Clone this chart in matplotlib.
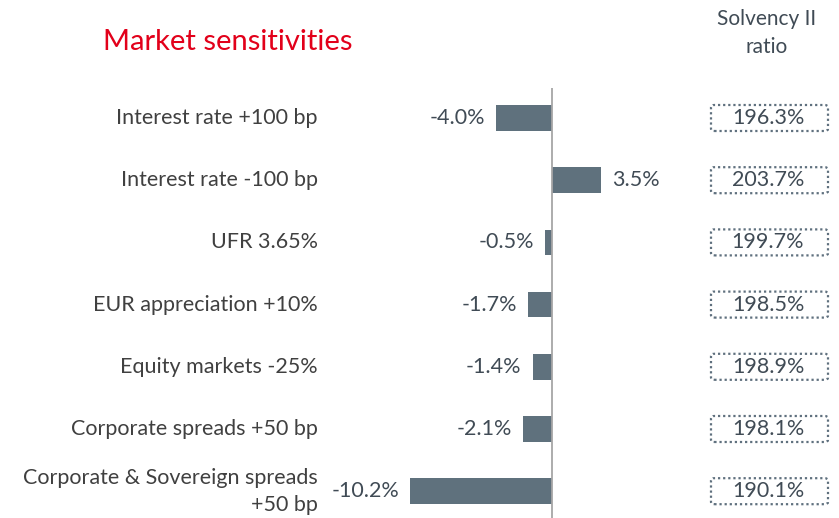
import matplotlib.pyplot as plt
from matplotlib.patches import FancyBboxPatch

scenarios = ['Interest rate +100 bp', 'Interest rate -100 bp', 'UFR 3.65%',
             'EUR appreciation +10%', 'Equity markets -25%',
             'Corporate spreads +50 bp', 'Corporate & Sovereign spreads\n+50 bp']
impact = [-4.0, 3.5, -0.5, -1.7, -1.4, -2.1, -10.2]
ratio = [196.3, 203.7, 199.7, 198.5, 198.9, 198.1, 190.1]

W, H = 839, 518
bar_col = '#5f717d'
txt_col = '#404b55'

plt.rcParams['font.family'] = ['Lato', 'DejaVu Sans']
fig = plt.figure(figsize=(W / 100, H / 100), dpi=100)

# axes placed in pixel terms: zero at x=552, rows 62 px apart from y=118
ax = fig.add_axes([400 / W, 0, 290 / W, (518 - 88) / H])
ax.set_xlim(-152 / 13.9, 138 / 13.9)
ax.set_ylim(6.43, -0.48)
ax.axis('off')

ys = list(range(len(scenarios)))
ax.barh(ys, impact, height=0.41, color=bar_col)
ax.axvline(0, color='#a6a6a6', lw=1.3)

for y, v in zip(ys, impact):
    if v < 0:
        ax.text(v - 0.8, y, f'{v:.1f}%', ha='right', va='center', fontsize=15.5, color=txt_col)
    else:
        ax.text(v + 0.8, y, f'{v:.1f}%', ha='left', va='center', fontsize=15.5, color=txt_col)

def ypix(i):
    return 1 - (118 + 62.2 * i) / H

for i, (s, r) in enumerate(zip(scenarios, ratio)):
    fig.text(318 / W, ypix(i), s, ha='right', va='center', fontsize=15.5,
             color='#404040', linespacing=1.45)
    fig.text(768 / W, ypix(i), f'{r:.1f}%', ha='center', va='center', fontsize=15.5, color=txt_col)
    box = FancyBboxPatch((711 / W, ypix(i) - 13 / H), 117 / W, 26 / H,
                         boxstyle='round,pad=0,rounding_size=0.004',
                         transform=fig.transFigure, fill=False,
                         ec='#5f707e', lw=1.6, ls=(0, (1, 1.3)))
    fig.add_artist(box)

fig.text(103 / W, 1 - 42 / H, 'Market sensitivities', ha='left', va='center',
         fontsize=21, color='#e2001a')
fig.text(767 / W, 1 - 33 / H, 'Solvency II\nratio', ha='center', va='center',
         fontsize=15, color=txt_col, linespacing=1.55)

fig.savefig('out.png', dpi=100)
